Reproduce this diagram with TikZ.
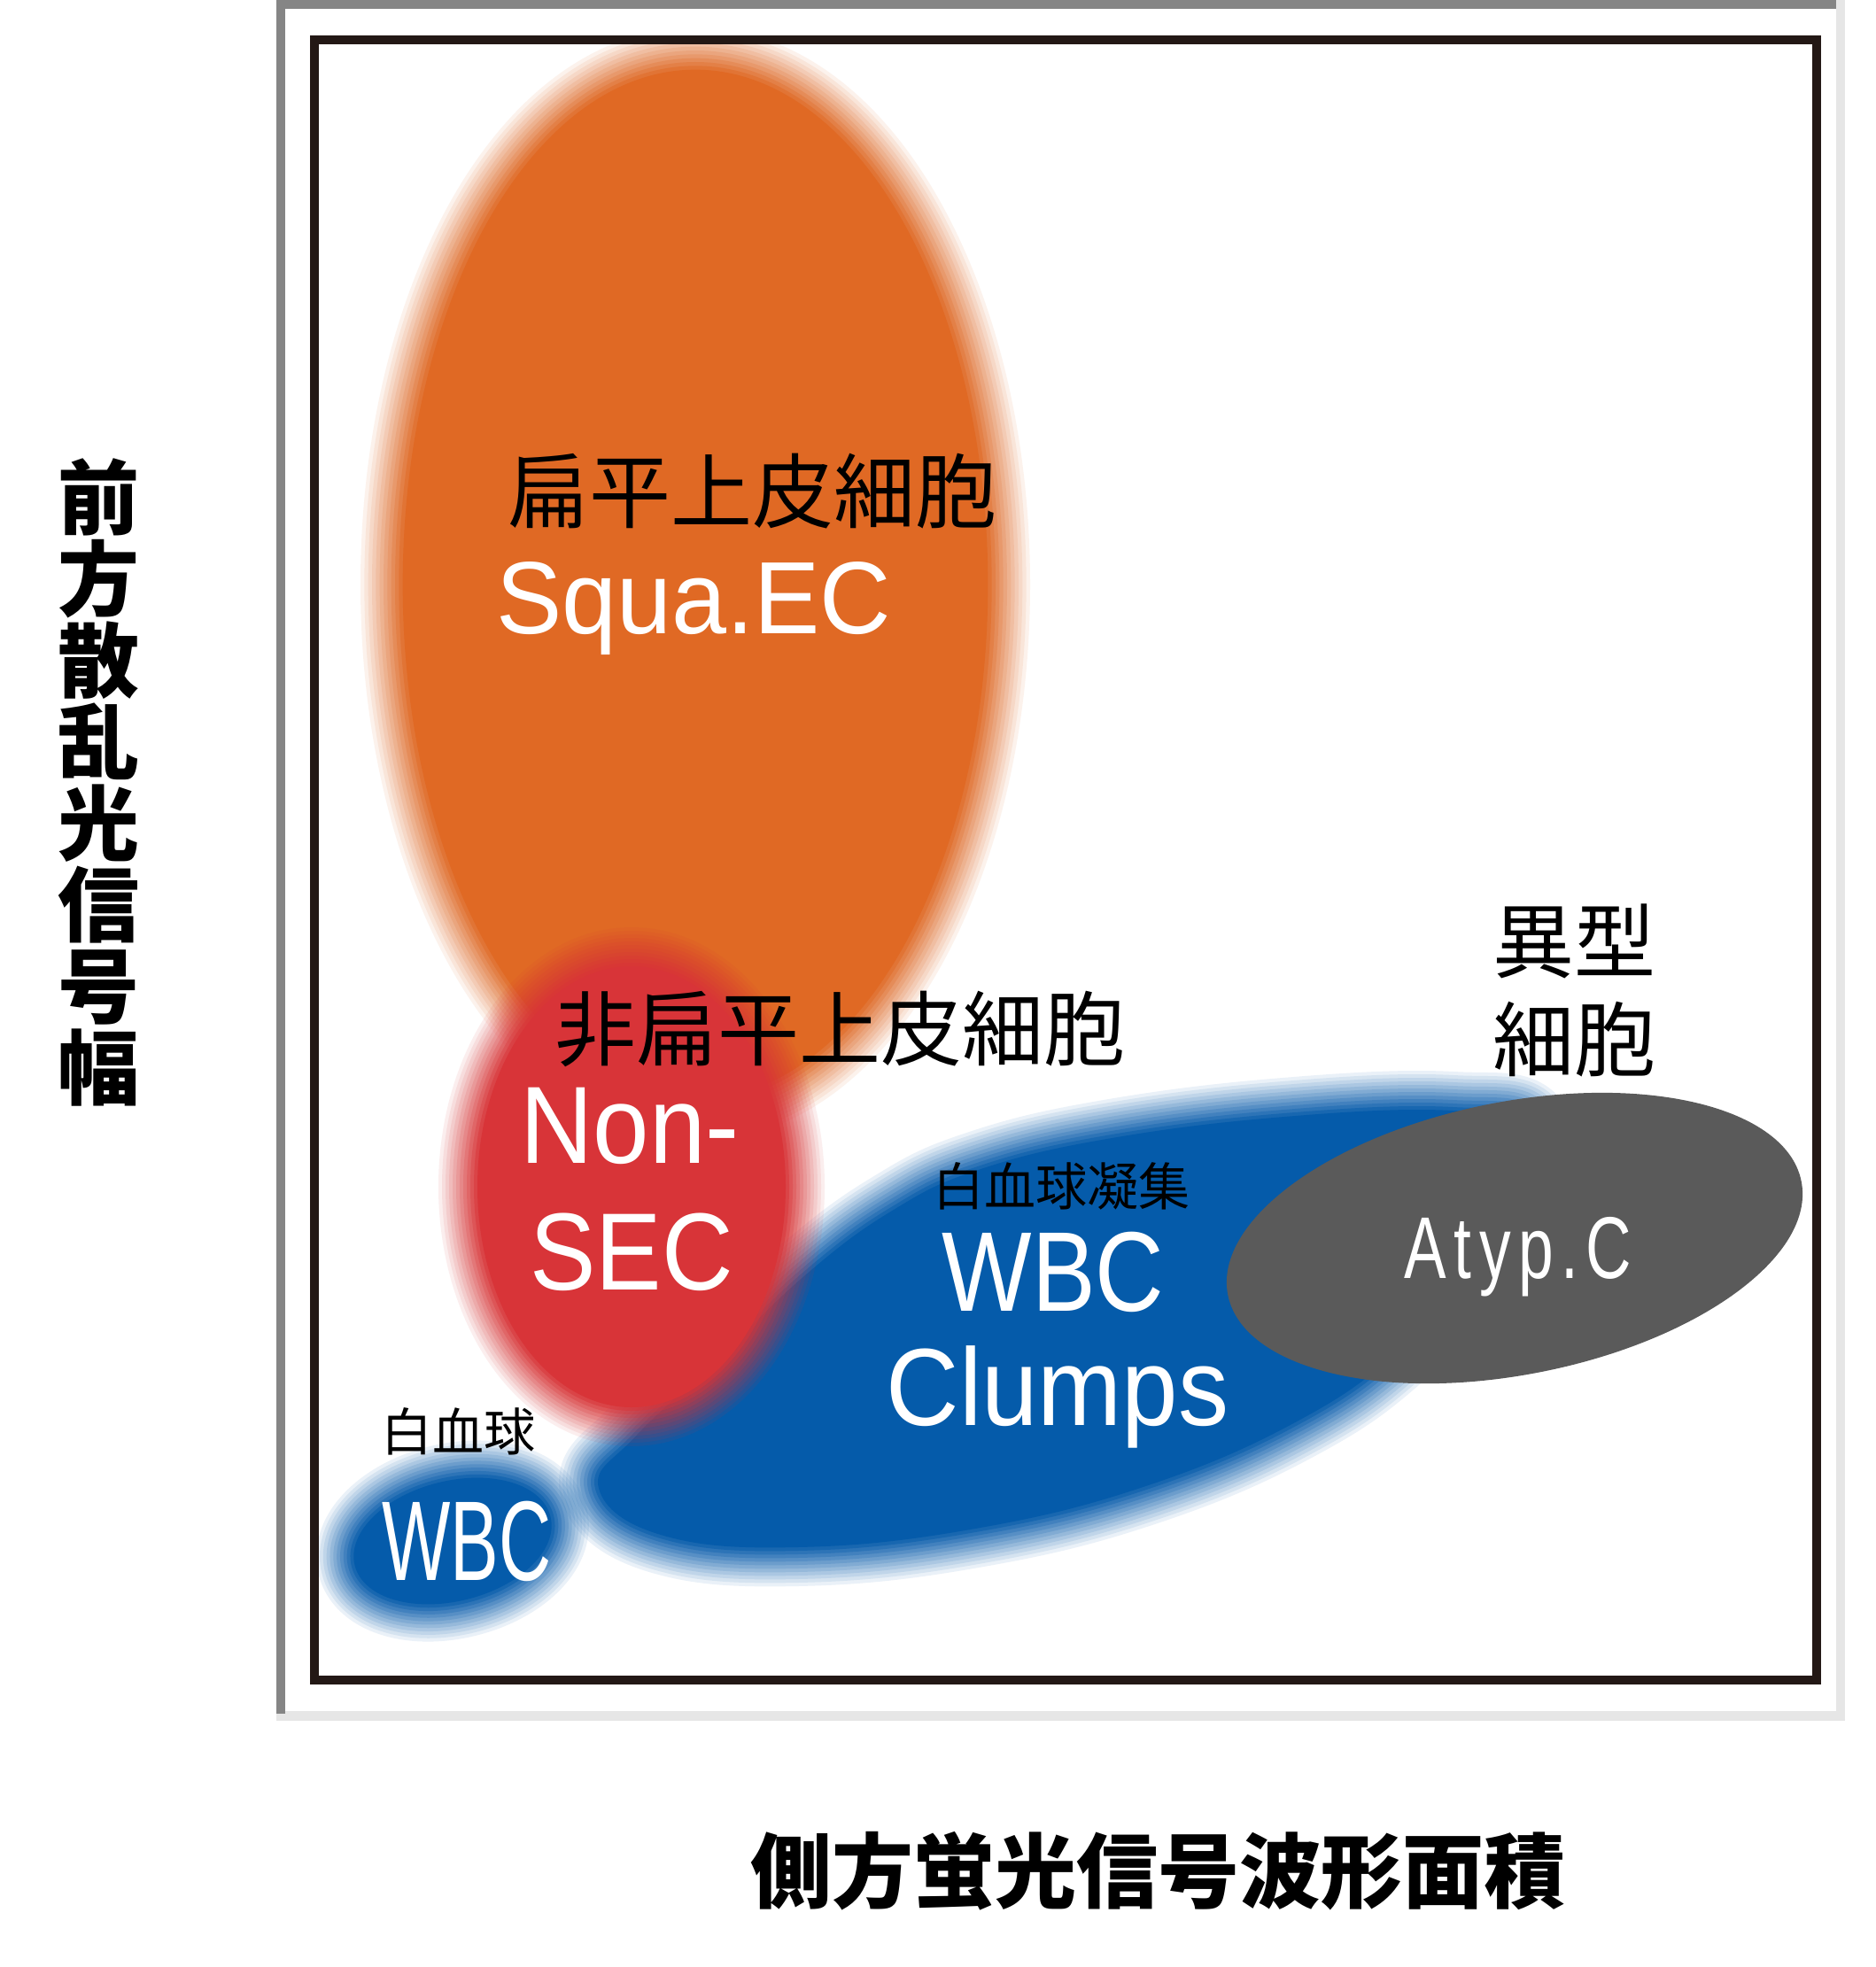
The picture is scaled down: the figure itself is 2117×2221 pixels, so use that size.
\documentclass[tikz,border=0pt]{standalone}
\usepackage{fontspec}
\setmainfont{Liberation Sans}
\newfontfamily\cjk{Noto Sans CJK JP}
\definecolor{sqorange}{HTML}{E06924}
\definecolor{nonred}{HTML}{D83438}
\definecolor{wbcblue}{HTML}{055BAA}
\definecolor{atygray}{HTML}{5A5A5A}
\definecolor{framek}{HTML}{231815}
\definecolor{framedark}{HTML}{858585}
\definecolor{framelight}{HTML}{E6E6E6}
\newcommand\blurblob[4]{%
  \foreach \k in {1,...,12}{%
    \pgfmathsetmacro\bw{2*#4*(13-\k)/12}%
    \pgfmathsetmacro\bo{1/(13-\k)}%
    \draw[#1,#2,line width=\bw pt,draw opacity=\bo,line join=round] #3;%
  }%
  \fill[#1,#2] #3;%
}
\begin{document}
\begin{tikzpicture}[x=1pt,y=-1pt,
  jalabel/.style={inner sep=0pt,text=black,font=\cjk\fontsize{92}{111}\selectfont,align=center},
  jasmall/.style={inner sep=0pt,text=black,font=\cjk\fontsize{58}{58}\selectfont},
  axislabel/.style={inner sep=0pt,text=black,font=\cjk\bfseries\fontsize{92}{92}\selectfont,align=center},
  inlabel/.style={inner sep=0pt,text=white,anchor=base}]
\useasboundingbox (0,0) rectangle (2117,2221);
% outer frame
\fill[framelight] (312,0) rectangle (2083,1943);
\fill[white] (322,10) rectangle (2073,1932);
\fill[framedark] (312,0) rectangle (2073,10);
\fill[framedark] (312,0) rectangle (322,1935);
% blobs
\begin{scope}
\clip (355,45) rectangle (2051,1897);
\blurblob{sqorange}{shift={(0,0)}}{(785,660) ellipse [x radius=326, y radius=577]}{52}
\blurblob{wbcblue}{shift={(0,0)}}{plot[smooth cycle, tension=0.7] coordinates {(680,1680) (720,1625) (815,1535) (915,1440) (1010,1370) (1105,1325) (1250,1290) (1450,1265) (1640,1258) (1730,1280) (1700,1395) (1585,1515) (1465,1600) (1290,1675) (1095,1723) (900,1743) (750,1730)}}{48}
\blurblob{nonred}{shift={(0,0)}}{(713,1340) ellipse [x radius=170, y radius=245]}{48}
\blurblob{wbcblue}{rotate around={14:(511,1740)}}{(511,1740) ellipse [x radius=110, y radius=64]}{46}
\end{scope}
\fill[atygray, rotate around={11.2:(1710,1398)}] (1710,1398) ellipse [x radius=330, y radius=154];
% inner frame
\draw[framek, line width=10pt] (355,45) rectangle (2051,1897);
% labels
\node[jalabel] (sqja) at (849,555) {扁平上皮細胞};
\node[inlabel,font=\fontsize{116}{116}\selectfont] (sqen) at (783,715) {\scalebox{0.96}[1]{Squa.EC}};
\node[jalabel] (nsja) at (948,1162) {非扁平上皮細胞};
\node[inlabel,font=\fontsize{124}{124}\selectfont] (nsen1) at (711,1313) {\scalebox{0.92}[1]{Non-}};
\node[inlabel,font=\fontsize{124}{124}\selectfont] (nsen2) at (713,1456) {\scalebox{0.9}[1]{SEC}};
\node[jasmall] (wcja) at (1198,1339) {白血球凝集};
\node[inlabel,font=\fontsize{128}{128}\selectfont] (wcen1) at (1189,1480) {\scalebox{0.84}[1]{WBC}};
\node[inlabel,font=\fontsize{124}{124}\selectfont] (wcen2) at (1194,1609) {\scalebox{0.92}[1]{Clumps}};
\node[jasmall] (wbja) at (517,1616) {白血球};
\node[inlabel,font=\fontsize{128}{128}\selectfont] (wben) at (527,1784) {\scalebox{0.64}[1]{WBC}};
\node[jalabel] (atja) at (1777,1118) {異型\\細胞};
\node[inlabel,font=\fontsize{99}{99}\selectfont\addfontfeatures{LetterSpace=12}] (aten) at (1714,1443) {\scalebox{0.72}[1]{Atyp.C}};
% axis labels
\node[axislabel] (ylab) at (111,883) {前\\方\\散\\乱\\光\\信\\号\\幅};
\node[axislabel] (xlab) at (1307,2113) {側方蛍光信号波形面積};
\end{tikzpicture}
\end{document}
